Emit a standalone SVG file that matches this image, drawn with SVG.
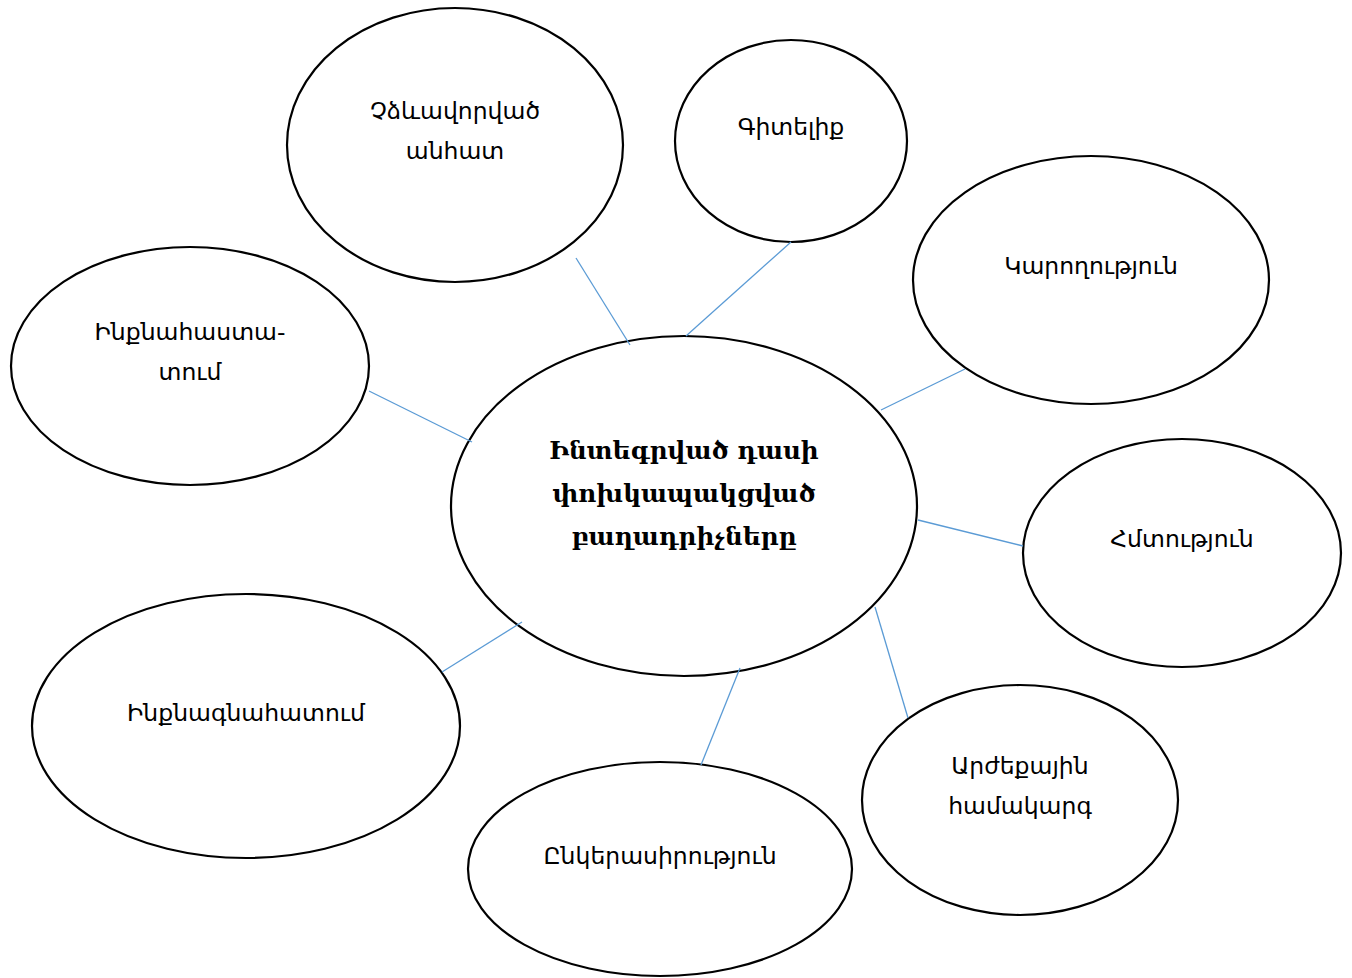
<svg xmlns="http://www.w3.org/2000/svg" width="1352" height="978" viewBox="0 0 1352 978">
<style>
.n ellipse{fill:#fff;stroke:#000;stroke-width:2.2}
.t{font-family:"DejaVu Sans","Noto Sans",sans-serif;font-size:23.5px;fill:#000;text-anchor:middle}
.c{font-family:"DejaVu Serif","Noto Serif",serif;font-size:24.7px;font-weight:bold;fill:#000;text-anchor:middle}
.e line{stroke:#5b9bd5;stroke-width:1.3}
</style>
<rect width="1352" height="978" fill="#fff"/>
<g id="n1" class="n"><ellipse cx="455" cy="145" rx="168" ry="137"/><text class="t" x="455" y="119">Չձևավորված</text><text class="t" x="455" y="159">անհատ</text></g>
<g id="n2" class="n"><ellipse cx="791" cy="141" rx="116" ry="101"/><text class="t" x="791" y="135">Գիտելիք</text></g>
<g id="n3" class="n"><ellipse cx="1091" cy="280" rx="178" ry="124"/><text class="t" x="1091" y="274">Կարողություն</text></g>
<g id="n4" class="n"><ellipse cx="1182" cy="553" rx="159" ry="114"/><text class="t" x="1182" y="547">Հմտություն</text></g>
<g id="n5" class="n"><ellipse cx="1020" cy="800" rx="158" ry="115"/><text class="t" x="1020" y="774">Արժեքային</text><text class="t" x="1020" y="814">համակարգ</text></g>
<g id="n6" class="n"><ellipse cx="660" cy="869" rx="192" ry="107"/><text class="t" x="660" y="864">Ընկերասիրություն</text></g>
<g id="n7" class="n"><ellipse cx="246" cy="726" rx="214" ry="132"/><text class="t" x="246" y="721">Ինքնագնահատում</text></g>
<g id="n8" class="n"><ellipse cx="190" cy="366" rx="179" ry="119"/><text class="t" x="190" y="340">Ինքնահաստա-</text><text class="t" x="190" y="380">տում</text></g>
<g id="center" class="n"><ellipse cx="684" cy="506" rx="233" ry="170"/><text class="c" x="684" y="459">Ինտեգրված դասի</text><text class="c" x="684" y="502">փոխկապակցված</text><text class="c" x="684" y="545">բաղադրիչները</text></g>
<g id="connectors" class="e">
<line x1="576" y1="258" x2="630" y2="345"/>
<line x1="791" y1="242" x2="686" y2="336"/>
<line x1="965" y1="369" x2="881" y2="410"/>
<line x1="918" y1="520" x2="1023" y2="546"/>
<line x1="875" y1="607" x2="908" y2="718"/>
<line x1="740" y1="668" x2="701" y2="765"/>
<line x1="522" y1="622" x2="442" y2="672"/>
<line x1="369" y1="391" x2="472" y2="442"/>
</g>
</svg>
